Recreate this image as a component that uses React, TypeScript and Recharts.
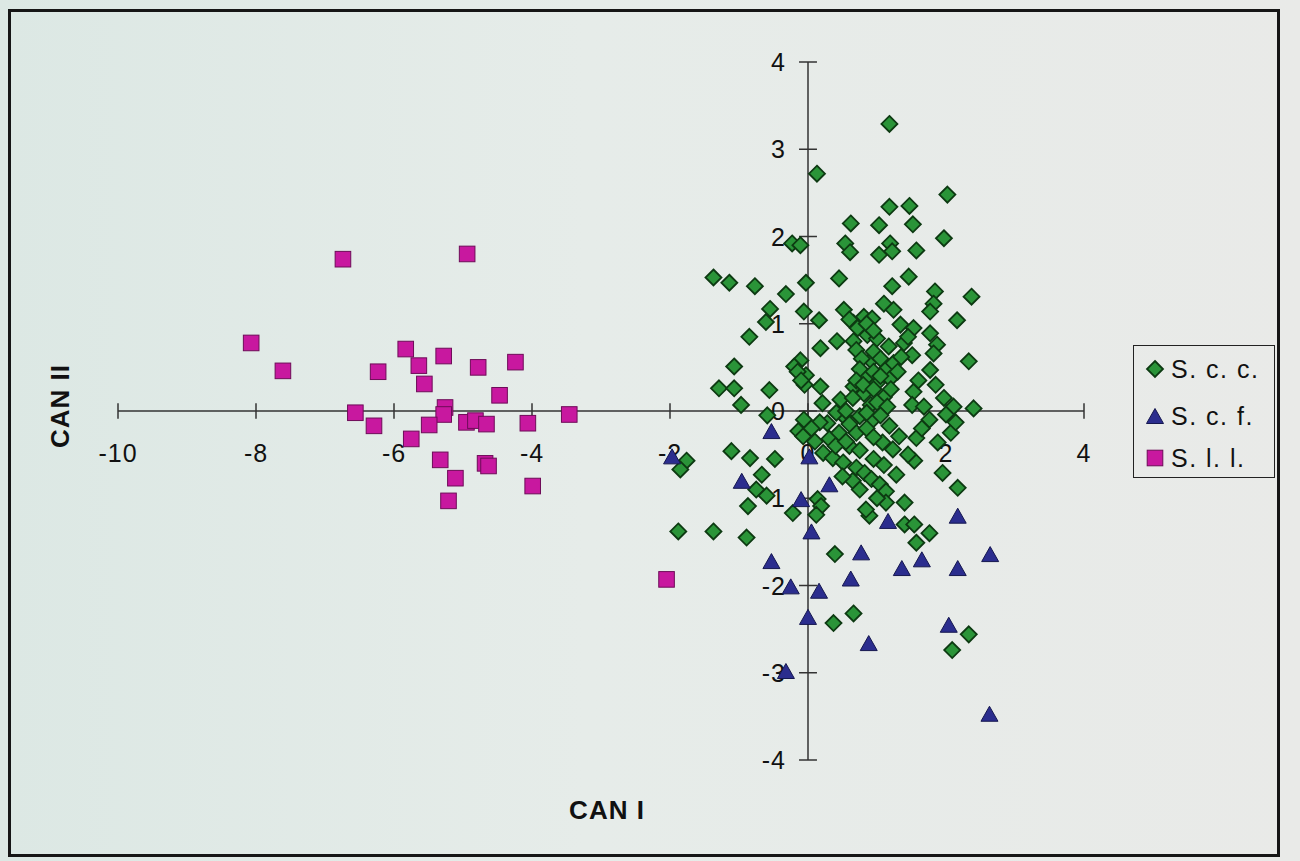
import { ScatterChart, Scatter, XAxis, YAxis, ReferenceLine, ReferenceDot, Legend } from 'recharts'

const GREEN      = '#2a9438'
const GREEN_EDGE = '#0d3a12'
const BLUE       = '#2b2d8e'
const BLUE_EDGE  = '#15174f'
const PINK       = '#c8189f'
const PINK_EDGE  = '#6e0c58'
const AXIS_COLOR = '#333'
const FONT       = "Arial, 'Liberation Sans', sans-serif"

const X_TICKS = [-10, -8, -6, -4, -2, 0, 2, 4]
const Y_TICKS = [-4, -3, -2, -1, 0, 1, 2, 3, 4]

// S. c. c. (diamonds)
const sccX = [
  1.18, 0.13, 2.02, 1.18, 1.47, 0.62, 1.03, 1.52, 1.97, -0.23, -0.11, 0.54, 0.61, 1.03, 1.19, 1.22, 1.57,
  -1.37, -1.14, -0.77, -0.32, -0.03, 0.45, 1.46, 1.22, 1.84, 2.37,
  1.82, 1.77, -0.55, -0.61, -0.85, -0.06, 0.16, 0.52, 1.10, 1.24, 0.81, 0.93, 0.66, 1.34, 1.53, 1.77, 2.16,
  0.18, 0.42, 0.66, 0.86, 1.00, 1.17, 1.39, 1.51, 1.87, 1.82, 2.33, -0.11, -0.20, -0.03, 0.91, 1.12, 1.24,
  0.86, 1.00, 1.19, 1.77, -1.07, -1.29, -1.07, -0.97, -0.56, 0.18, 0.21, 0.47, 0.66, 0.81, 0.91, 1.10,
  1.53, 1.51, 1.68, 1.97, 2.11, 2.40, -0.59, -0.06, 0.28, 0.52,
  -0.14, -0.07, 0.17, 0.22, 0.36, 0.51, 0.60, 0.70, 0.82, 0.92, 1.04, 1.13, 1.13, 1.28, 0.89, 0.84, 1.40,
  1.40, 1.54, 1.76, 1.57, 1.54, 1.95, 2.17, 1.88, 2.07, 1.57, 1.32, 1.18, 0.94, 0.75, 0.41, 0.70, 0.31,
  1.08, 1.23, 1.76, 2.00, 2.14, -1.76, -1.85, -1.11, -0.84, -0.48, -0.67, -0.75, -0.60, -0.87, -0.22,
  0.14, 0.19, 0.12, -1.88, -1.37, -0.89,
  0.39, 0.66, 0.37, 2.33, 2.09,
  // dense core
  0.60, 0.72, 0.85, 0.95, 0.70, 0.78, 0.95, 1.05, 0.75, 0.95, 1.05, 0.70, 0.80, 0.95, 1.20, 1.30, 1.35,
  1.00, 1.15, 0.65, 0.55, 0.85, 1.05, 0.60, 0.85, 0.95, 0.45, 0.40, 0.55, 0.75, 0.95, 1.10, 0.65, 0.75,
  1.00, 0.50, 1.45, 1.65, 1.85, 1.60, 1.45, -0.15, -0.05, -0.10, 0.05, 0.10,
]
const sccY = [
  3.29, 2.72, 2.48, 2.34, 2.35, 2.15, 2.13, 2.14, 1.98, 1.92, 1.90, 1.92, 1.82, 1.79, 1.92, 1.83, 1.84,
  1.53, 1.47, 1.43, 1.34, 1.47, 1.52, 1.54, 1.43, 1.37, 1.31,
  1.23, 1.14, 1.17, 1.02, 0.85, 1.14, 1.04, 1.16, 1.23, 1.16, 1.08, 1.06, 1.01, 0.99, 0.95, 0.89, 1.04,
  0.72, 0.80, 0.80, 0.87, 0.83, 0.74, 0.78, 0.64, 0.76, 0.66, 0.57, 0.58, 0.51, 0.41, 0.58, 0.47, 0.55,
  0.39, 0.32, 0.37, 0.47, 0.51, 0.26, 0.26, 0.07, 0.24, 0.28, 0.09, 0.13, 0.28, 0.20, 0.07, 0.16,
  0.22, 0.07, 0.05, 0.15, 0.05, 0.03, -0.05, -0.10, -0.14, -0.06,
  -0.23, -0.29, -0.13, -0.48, -0.54, -0.59, -0.40, -0.65, -0.71, -0.78, -0.84, -0.92, -1.05, -0.73, -1.20, -1.13, -1.05,
  -1.30, -1.30, -1.40, -1.51, -0.57, -0.71, -0.88, -0.36, -0.25, -0.31, -0.29, -0.17, -0.10, -0.06, -0.02, -0.25, -0.32,
  -0.36, -0.44, -0.10, -0.04, -0.13, -0.57, -0.67, -0.46, -0.54, -0.55, -0.73, -0.90, -0.97, -1.09, -1.17,
  -1.01, -1.09, -1.19, -1.38, -1.38, -1.45,
  -1.64, -2.32, -2.43, -2.56, -2.74,
  1.05, 0.95, 1.00, 0.92, 0.70, 0.60, 0.68, 0.60, 0.48, 0.45, 0.40, 0.35, 0.30, 0.25, 0.25, 0.45, 0.62,
  0.10, 0.05, 0.15, 0.00, -0.02, -0.05, -0.15, -0.20, -0.30, -0.25, -0.40, -0.35, -0.45, -0.55, -0.62, -0.80, -0.90,
  -1.00, -0.75, -0.50, -0.20, 0.30, 0.35, 0.85, 0.45, 0.30, 0.35, -0.20, -0.35,
]

// S. c. f. (triangles)
const scfX = [-0.53, -1.97, -0.96, -0.10, 0.02, 0.31, 0.05, 1.16, 2.17, -0.53, 0.77, 0.62, -0.25, 0.16, 0.00, 1.36, 1.65, 2.17, 2.64, 2.04, 0.88, -0.32, 2.63]
const scfY = [-0.23, -0.52, -0.80, -1.01, -0.52, -0.84, -1.38, -1.26, -1.20, -1.72, -1.62, -1.92, -2.01, -2.06, -2.36, -1.80, -1.70, -1.80, -1.64, -2.45, -2.66, -2.98, -3.47]

// S. l. l. (squares)
const sllX = [-6.74, -4.94, -8.07, -7.61, -6.23, -5.83, -5.64, -5.56, -5.28, -4.78, -4.24, -4.47, -6.56, -6.29, -5.26, -5.28, -5.49, -5.75, -4.95, -4.82, -4.66, -4.06, -3.46, -5.33, -4.68, -4.63, -5.11, -3.99, -5.21, -2.05]
const sllY = [1.74, 1.80, 0.78, 0.46, 0.45, 0.71, 0.52, 0.31, 0.63, 0.50, 0.56, 0.18, -0.02, -0.17, 0.04, -0.04, -0.16, -0.32, -0.13, -0.11, -0.15, -0.14, -0.04, -0.56, -0.60, -0.63, -0.77, -0.86, -1.03, -1.93]

const toPoints = (xs: number[], ys: number[]) => xs.map((x, i) => ({ x, y: ys[i] }))

const SERIES = [
  { name: 'S. c. c.', kind: 'diamond',  data: toPoints(sccX, sccY) },
  { name: 'S. c. f.', kind: 'triangle', data: toPoints(scfX, scfY) },
  { name: 'S. l. l.', kind: 'square',   data: toPoints(sllX, sllY) },
]

function Marker({ kind, cx, cy, s = 1 }: { kind: string; cx: number; cy: number; s?: number }) {
  if (kind === 'diamond') {
    const r = 8 * s
    return <polygon points={`${cx},${cy - r} ${cx + r},${cy} ${cx},${cy + r} ${cx - r},${cy}`}
      fill={GREEN} stroke={GREEN_EDGE} strokeWidth={1.8} />
  }
  if (kind === 'triangle') {
    const w = 8.5 * s, h = 7.5 * s
    return <polygon points={`${cx},${cy - h} ${cx + w},${cy + h} ${cx - w},${cy + h}`}
      fill={BLUE} stroke={BLUE_EDGE} strokeWidth={1} />
  }
  const r = 7.8 * s
  return <rect x={cx - r} y={cy - r} width={2 * r} height={2 * r} fill={PINK} stroke={PINK_EDGE} strokeWidth={1} />
}

function LegendBox() {
  return (
    <div style={{ width: 142, height: 133, border: '1.5px solid #222', boxSizing: 'border-box', position: 'relative', fontFamily: FONT }}>
      {SERIES.map((s, i) => (
        <div key={s.name} style={{ position: 'absolute', left: 0, top: [23, 70, 112][i] - 15, height: 30, width: 140 }}>
          <svg width={36} height={30} style={{ position: 'absolute', left: 3, top: 0 }}>
            <Marker kind={s.kind} cx={18} cy={15} s={1} />
          </svg>
          <span style={{ position: 'absolute', left: 37, top: 0, lineHeight: '30px', fontSize: 25, letterSpacing: 1.5, color: '#111', whiteSpace: 'nowrap' }}>{s.name}</span>
        </div>
      ))}
    </div>
  )
}

export default function App() {
  return (
    <div style={{
      position: 'absolute', left: 0, top: 0, width: 1300, height: 861, overflow: 'hidden',
      background: 'linear-gradient(90deg, #dce8e4 0%, #e6ece9 45%, #e9eae8 100%)',
    }}>
      <div style={{ position: 'absolute', left: 8, top: 9, width: 1272, height: 848, border: '3px solid #161616', boxSizing: 'border-box' }} />
      <ScatterChart width={1300} height={861} margin={{ top: 62, right: 216, bottom: 101, left: 118 }}>
        <XAxis type="number" dataKey="x" domain={[-10, 4]} allowDataOverflow hide />
        <YAxis type="number" dataKey="y" domain={[-4, 4]} allowDataOverflow hide />
        <ReferenceLine segment={[{ x: -10, y: 0 }, { x: 4, y: 0 }]} stroke={AXIS_COLOR} strokeWidth={1.5} />
        <ReferenceLine segment={[{ x: 0, y: -4 }, { x: 0, y: 4 }]} stroke={AXIS_COLOR} strokeWidth={1.5} />
        {X_TICKS.map(t => (
          <ReferenceLine key={'xt' + t} segment={[{ x: t, y: -0.09 }, { x: t, y: 0.09 }]} stroke={AXIS_COLOR} strokeWidth={1.5} />
        ))}
        {Y_TICKS.map(t => (
          <ReferenceLine key={'yt' + t} segment={[{ x: -0.13, y: t }, { x: 0.13, y: t }]} stroke={AXIS_COLOR} strokeWidth={1.5} />
        ))}
        {X_TICKS.map(t => (
          <ReferenceDot key={'xl' + t} x={t} y={0} r={0}
            shape={(p: any) => (
              <text x={p.cx} y={p.cy + 51} textAnchor="middle" fontSize={25} letterSpacing={1} fontFamily={FONT} fill="#111">{t}</text>
            )} />
        ))}
        {Y_TICKS.map(t => (
          <ReferenceDot key={'yl' + t} x={0} y={t} r={0}
            shape={(p: any) => (
              <text x={p.cx - 22} y={p.cy + 9} textAnchor="end" fontSize={25} letterSpacing={1} fontFamily={FONT} fill="#111">{t}</text>
            )} />
        ))}
        {SERIES.map(s => (
          <Scatter key={s.name} name={s.name} data={s.data} isAnimationActive={false}
            shape={(p: any) => <Marker kind={s.kind} cx={p.cx} cy={p.cy} />} />
        ))}
        <Legend layout="horizontal" verticalAlign="middle" align="center"
          wrapperStyle={{ position: 'absolute', left: 1133, top: 345, width: 142, height: 133 }}
          content={() => <LegendBox />} />
      </ScatterChart>
      <div style={{
        position: 'absolute', left: 60, top: 406, transform: 'translate(-50%, -50%) rotate(-90deg)',
        fontFamily: FONT, fontWeight: 700, fontSize: 26, letterSpacing: 1, color: '#111', whiteSpace: 'nowrap',
      }}>CAN II</div>
      <div style={{
        position: 'absolute', left: 607, top: 810, transform: 'translate(-50%, -50%)',
        fontFamily: FONT, fontWeight: 700, fontSize: 26, letterSpacing: 1, color: '#111', whiteSpace: 'nowrap',
      }}>CAN I</div>
    </div>
  )
}
